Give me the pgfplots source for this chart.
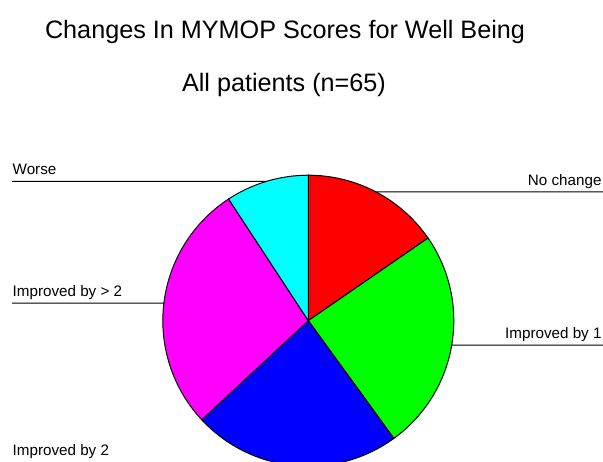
\documentclass[border=0pt]{standalone}
\usepackage{fontspec}
\setmainfont{Liberation Sans}
\usepackage{pgfplots}
\pgfplotsset{compat=1.18}
\definecolor{pRed}{RGB}{255,0,0}
\definecolor{pGreen}{RGB}{0,255,0}
\definecolor{pBlue}{RGB}{0,0,255}
\definecolor{pMagenta}{RGB}{255,0,255}
\definecolor{pCyan}{RGB}{0,255,255}

% pie geometry (1 unit = 1 px of the reference)
\def\pieX{308.3}
\def\pieY{320.7}
\def\pieR{145.5}
\def\pieN{65}

% slice: colour, cumulative count before, cumulative count after
\newcommand{\slice}[3]{%
  \fill[#1, draw=black, line width=1pt] (axis cs:\pieX,\pieY)
    -- ++({90-#2/\pieN*360}:\pieR pt)
    arc[start angle={90-#2/\pieN*360}, end angle={90-#3/\pieN*360}, radius=\pieR pt]
    -- cycle;}

\newcommand{\labfont}{\fontsize{15.2}{18}\selectfont}
% label lines: [lift of text], mid count, text
\newcommand{\leftlabel}[3][6.5]{%
  \draw[line width=1pt] (axis cs:\pieX,\pieY) ++({90-#2/\pieN*360}:\pieR pt)
    -- (axis cs:12,{\pieY-\pieR*cos(#2/\pieN*360)});
  \node[anchor=base west, inner sep=0pt, yshift=#1pt, font=\labfont]
    at (axis cs:12.5,{\pieY-\pieR*cos(#2/\pieN*360)}) {#3};}
\newcommand{\rightlabel}[2]{%
  \draw[line width=1pt] (axis cs:\pieX,\pieY) ++({90-#1/\pieN*360}:\pieR pt)
    -- (axis cs:603,{\pieY-\pieR*cos(#1/\pieN*360)});
  \node[anchor=base east, inner sep=0pt, yshift=6.5pt, font=\labfont]
    at (axis cs:601.7,{\pieY-\pieR*cos(#1/\pieN*360)}) {#2};}

\begin{document}
\begin{tikzpicture}
\useasboundingbox (0,0) rectangle (603pt,461pt);
\begin{axis}[
    at={(0,0)}, anchor=south west,
    x=1pt, y=1pt,
    xmin=0, xmax=603, ymin=0, ymax=461,
    y dir=reverse,
    hide axis,
    clip=false,
]

%% counts: No change 10, Improved by 1 16, Improved by 2 15, Improved by >2 18, Worse 6
\slice{pRed}{0}{10}
\slice{pGreen}{10}{26}
\slice{pBlue}{26}{41}
\slice{pMagenta}{41}{59}
\slice{pCyan}{59}{65}

\rightlabel{5}{No change}
\rightlabel{18}{Improved by 1}
\leftlabel[10.5]{33.5}{Improved by 2}
\leftlabel{50}{Improved by > 2}
\leftlabel{62}{Worse}

\node[anchor=base, inner sep=0pt, font=\fontsize{25.2}{30}\selectfont]
  at (axis cs:285,38.3) {Changes In MYMOP Scores for Well Being};
\node[anchor=base, inner sep=0pt, font=\fontsize{25.2}{30}\selectfont]
  at (axis cs:284,91.7) {All patients (n=65)};

\end{axis}
\end{tikzpicture}
\end{document}
